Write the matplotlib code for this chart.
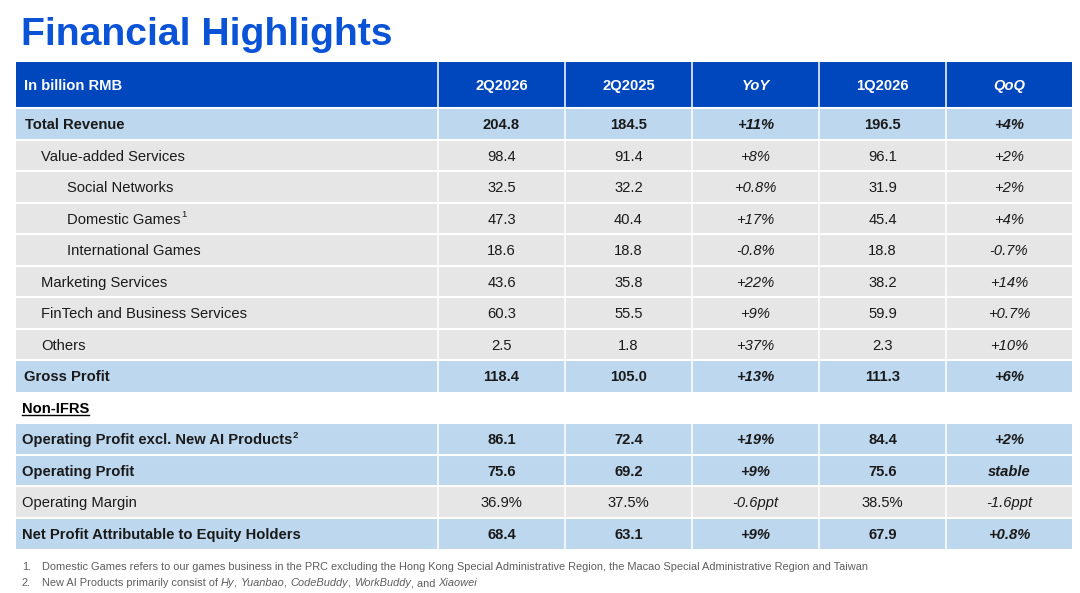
import matplotlib
matplotlib.use("Agg")
import matplotlib.pyplot as plt
from matplotlib.patches import Rectangle

# ---------------- data ----------------
title = "Financial Highlights"
unit_label = "In billion RMB"
col_headers = ["2Q2026", "2Q2025", "YoY", "1Q2026", "QoQ"]
row_labels = ["Total Revenue", "Value-added Services", "Social Networks", "Domestic Games",
              "International Games", "Marketing Services", "FinTech and Business Services",
              "Others", "Gross Profit", "Non-IFRS", "Operating Profit excl. New AI Products",
              "Operating Profit", "Operating Margin", "Net Profit Attributable to Equity Holders"]
label_notes = ["", "", "", "1", "", "", "", "", "", "", "2", "", "", ""]
q2_2026 = ["204.8", "98.4", "32.5", "47.3", "18.6", "43.6", "60.3", "2.5", "118.4", "",
           "86.1", "75.6", "36.9%", "68.4"]
q2_2025 = ["184.5", "91.4", "32.2", "40.4", "18.8", "35.8", "55.5", "1.8", "105.0", "",
           "72.4", "69.2", "37.5%", "63.1"]
yoy = ["+11%", "+8%", "+0.8%", "+17%", "-0.8%", "+22%", "+9%", "+37%", "+13%", "",
       "+19%", "+9%", "-0.6ppt", "+9%"]
q1_2026 = ["196.5", "96.1", "31.9", "45.4", "18.8", "38.2", "59.9", "2.3", "111.3", "",
           "84.4", "75.6", "38.5%", "67.9"]
qoq = ["+4%", "+2%", "+2%", "+4%", "-0.7%", "+14%", "+0.7%", "+10%", "+6%", "",
       "+2%", "stable", "-1.6ppt", "+0.8%"]
footnote1 = "Domestic Games refers to our games business in the PRC excluding the Hong Kong Special Administrative Region, the Macao Special Administrative Region and Taiwan"
footnote2 = [("New AI Products primarily consist of ", False), ("Hy", True), (", ", False),
             ("Yuanbao", True), (", ", False), ("CodeBuddy", True), (", ", False),
             ("WorkBuddy", True), (", and ", False), ("Xiaowei", True)]

# ---------------- style / layout ----------------
row_kind = ["bold", "normal", "normal", "normal", "normal", "normal", "normal", "normal",
            "bold", "section", "bold", "bold", "normal", "bold"]
label_x = [25, 41, 67, 67, 67, 41, 41, 41, 24, 22, 22, 22, 22, 22]
italic_cols = [False, False, True, False, True]

W, H = 1080, 593
C_TITLE = "#0A52D6"
C_HEAD = "#0047BE"
C_BLUE = "#BDD7EE"
C_GRAY = "#E6E6E6"
C_TEXT = "#1A1A1A"
C_NOTE = "#5E5E5E"
FONT = "Liberation Sans"
FS = 10.6
BASE = 5.4  # baseline offset below row centre (px)

plt.rcParams["font.family"] = [FONT, "DejaVu Sans"]

fig = plt.figure(figsize=(W / 100, H / 100), dpi=100)
ax = fig.add_axes([0, 0, 1, 1])
ax.set_xlim(0, W)
ax.set_ylim(H, 0)
ax.axis("off")

col_edges = [16, 438, 565, 692, 819, 946, 1072]
head_top, head_bot = 62, 108
row_h = 31.5

ax.text(21, 45, title, fontsize=28.2, fontweight="bold", color=C_TITLE, va="baseline", ha="left")

# header
ax.add_patch(Rectangle((col_edges[0], head_top), col_edges[-1] - col_edges[0], head_bot - head_top,
                       facecolor=C_HEAD, edgecolor="none"))
hy = (head_top + head_bot) / 2 + BASE
ax.text(24, hy, unit_label, fontsize=FS, fontweight="bold", color="white", va="baseline", ha="left")
for j, h in enumerate(col_headers):
    cx = (col_edges[j + 1] + col_edges[j + 2]) / 2
    ax.text(cx, hy, h, fontsize=FS, fontweight="bold", color="white", va="baseline", ha="center",
            style="italic" if italic_cols[j] else "normal")
for x in col_edges[1:-1]:
    ax.plot([x, x], [head_top, head_bot], color="white", lw=1.1, solid_capstyle="butt")

renderer = fig.canvas.get_renderer()
inv = ax.transData.inverted()


def text_end_x(t):
    bb = t.get_window_extent(renderer)
    return inv.transform((bb.x1, bb.y0))[0]


def advance(s, **kw):
    """Horizontal advance of a string (trailing spaces included), in px."""
    a = ax.text(0, 0, s + "x", **kw)
    b = ax.text(0, 0, "x", **kw)
    w = a.get_window_extent(renderer).width - b.get_window_extent(renderer).width
    a.remove()
    b.remove()
    return w


columns = [q2_2026, q2_2025, yoy, q1_2026, qoq]
for i, lab in enumerate(row_labels):
    y0 = head_bot + i * row_h
    yb = y0 + row_h / 2 + BASE
    kind = row_kind[i]
    if kind == "section":
        t = ax.text(label_x[i], yb, lab, fontsize=FS, fontweight="bold", color="black",
                    va="baseline", ha="left")
        xe = text_end_x(t)
        ax.plot([label_x[i], xe], [yb + 2.2, yb + 2.2], color="black", lw=1.0)
        continue
    fc = C_BLUE if kind == "bold" else C_GRAY
    ax.add_patch(Rectangle((col_edges[0], y0), col_edges[-1] - col_edges[0], row_h,
                           facecolor=fc, edgecolor="none"))
    fw = "bold" if kind == "bold" else "normal"
    t = ax.text(label_x[i], yb, lab, fontsize=FS, fontweight=fw, color=C_TEXT, va="baseline", ha="left")
    if label_notes[i]:
        xe = text_end_x(t)
        ax.text(xe + 0.5, yb - 6.5, label_notes[i], fontsize=6.8, fontweight=fw, color=C_TEXT,
                va="baseline", ha="left")
    for j, col in enumerate(columns):
        cx = (col_edges[j + 1] + col_edges[j + 2]) / 2
        ax.text(cx, yb, col[i], fontsize=FS, fontweight=fw, color=C_TEXT, va="baseline", ha="center",
                style="italic" if italic_cols[j] else "normal")
    # separators
    for x in col_edges[1:-1]:
        ax.plot([x, x], [y0, y0 + row_h], color="white", lw=1.1, solid_capstyle="butt")
    ax.plot([col_edges[0], col_edges[-1]], [y0, y0], color="white", lw=1.5, solid_capstyle="butt")

# footnotes
FN = 7.9
ax.text(22, 570.5, "1.", fontsize=FN, color=C_NOTE, va="baseline", ha="left")
ax.text(42, 570.5, footnote1, fontsize=FN, color=C_NOTE, va="baseline", ha="left")
ax.text(22, 586.5, "2.", fontsize=FN, color=C_NOTE, va="baseline", ha="left")
x = 42
for seg, it in footnote2:
    st = "italic" if it else "normal"
    ax.text(x, 586.5, seg, fontsize=FN, color=C_NOTE, va="baseline", ha="left", style=st)
    x += advance(seg, fontsize=FN, style=st)

fig.savefig("out.png", dpi=100)
